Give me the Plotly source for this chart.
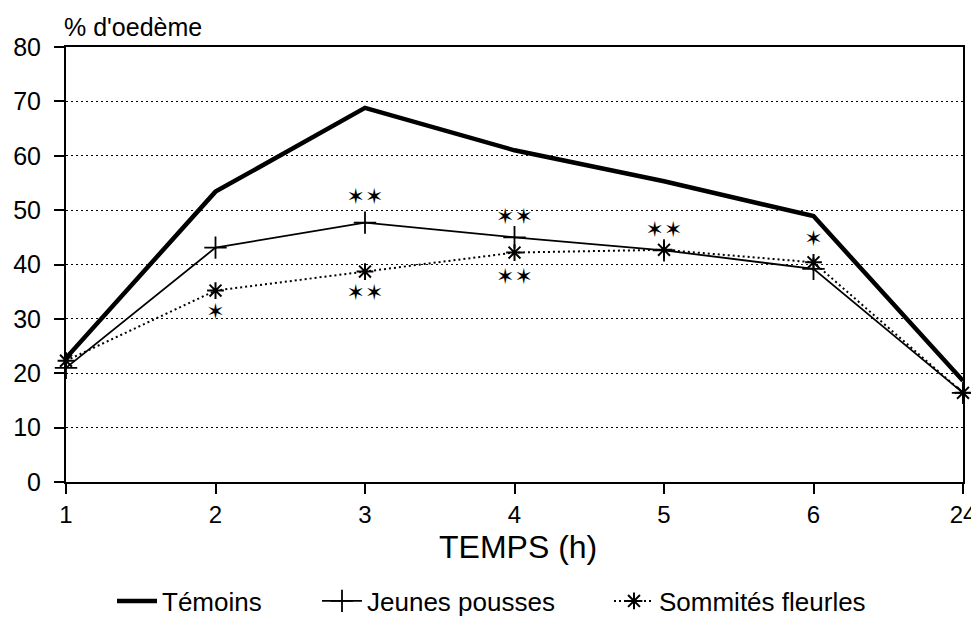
import plotly.graph_objects as go

# ---- data ----
temps = ["1", "2", "3", "4", "5", "6", "24"]
temoins = [22.8, 53.4, 68.8, 61.0, 55.3, 48.9, 18.6]
jeunes_pousses = [21.0, 43.1, 47.7, 45.0, 42.6, 39.2, 16.4]
sommites_fleuries = [22.3, 35.2, 38.7, 42.2, 42.7, 40.4, 16.4]

# significance marks (stars)
sig_x = ["2", "3", "3", "4", "4", "5", "6"]
sig_y = [31.0, 52.2, 34.5, 48.4, 37.5, 46.0, 44.5]
sig_text = ["✶", "✶✶", "✶✶", "✶✶", "✶✶", "✶✶", "✶"]

FONT = "Liberation Sans, Arial, sans-serif"
W, H = 979, 621
OFF = 8  # page body margin offset of the html page
# desired on-screen plot box: x 66..963, y 47..482
ML, MR, MT, MB = 66 - OFF, W - (963 - OFF), 47 - OFF, H - (482 - OFF)
PW = W - ML - MR
PH = H - MT - MB


def px_x(p):
    """screen pixel x -> paper fraction"""
    return (p - OFF - ML) / PW


def px_y(p):
    """screen pixel y -> paper fraction"""
    return (H - MB - (p - OFF)) / PH


fig = go.Figure()

fig.add_trace(go.Scatter(
    x=temps, y=temoins, name="Témoins", mode="lines",
    line=dict(color="black", width=4.5), cliponaxis=False, legend="legend"))

fig.add_trace(go.Scatter(
    x=temps, y=jeunes_pousses, name="Jeunes pousses", mode="lines+markers",
    line=dict(color="black", width=1.8),
    marker=dict(symbol="cross-thin", size=16, color="black",
                line=dict(color="black", width=1.8)),
    cliponaxis=False, legend="legend2"))

fig.add_trace(go.Scatter(
    x=temps, y=sommites_fleuries, name="Sommités fleurles", mode="lines+markers",
    line=dict(color="black", width=2, dash="2px,3px"),
    marker=dict(symbol="asterisk-open", size=14, color="black",
                line=dict(color="black", width=2)),
    cliponaxis=False, legend="legend3"))

fig.add_trace(go.Scatter(
    x=sig_x, y=sig_y, text=sig_text, mode="text", showlegend=False,
    textposition="middle center",
    textfont=dict(family="DejaVu Sans", size=22, color="black"),
    cliponaxis=False, hoverinfo="skip"))

annotations = [
    dict(text="% d'oedème", xref="paper", yref="paper", x=px_x(62), y=px_y(27),
         xanchor="left", yanchor="middle", showarrow=False,
         font=dict(family=FONT, size=25, color="black")),
    dict(text="TEMPS (h)", xref="paper", yref="paper", x=px_x(518), y=px_y(547),
         xanchor="center", yanchor="middle", showarrow=False,
         font=dict(family=FONT, size=32, color="black")),
]

leg_common = dict(orientation="h", xanchor="left", yanchor="middle", y=px_y(601),
                  font=dict(family=FONT, size=26, color="black"),
                  itemwidth=40, bgcolor="rgba(0,0,0,0)")

fig.update_layout(
    width=W, height=H,
    margin=dict(l=ML, r=MR, t=MT, b=MB, autoexpand=False),
    paper_bgcolor="white", plot_bgcolor="white",
    font=dict(family=FONT, color="black"),
    showlegend=True,
    legend=dict(x=px_x(112), **leg_common),
    legend2=dict(x=px_x(317), **leg_common),
    legend3=dict(x=px_x(609), **leg_common),
    xaxis=dict(type="category", range=[0, 6], showgrid=False,
               showline=True, linecolor="black", linewidth=2, mirror=True,
               ticks="outside", ticklen=10, tickwidth=1.5, tickcolor="black",
               ticklabelstandoff=0,
               tickfont=dict(family=FONT, size=24, color="black"), zeroline=False),
    yaxis=dict(range=[0, 80], dtick=10, showgrid=True, gridcolor="black",
               griddash="2px,3px", gridwidth=1.2,
               showline=True, linecolor="black", linewidth=2, mirror=True,
               ticks="outside", ticklen=10, tickwidth=1.5, tickcolor="black",
               ticklabelstandoff=8,
               tickfont=dict(family=FONT, size=25, color="black"), zeroline=False),
    annotations=annotations,
)

fig.write_html("out.html")
